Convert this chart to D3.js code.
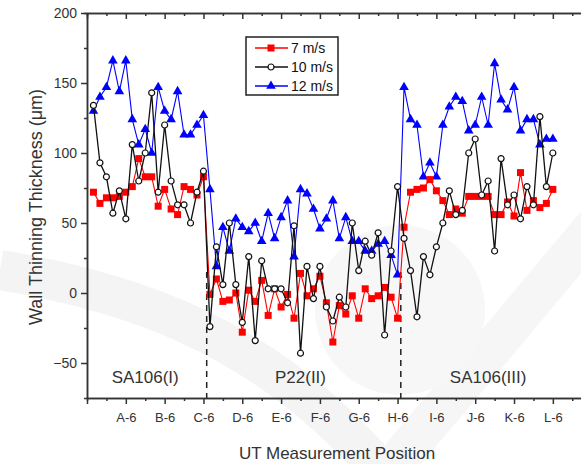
<!DOCTYPE html>
<html>
<head>
<meta charset="utf-8">
<script src="https://cdn.jsdelivr.net/npm/d3@7"></script>
<style>
  body { margin: 0; background: #fff; }
  svg { display: block; font-family: "Liberation Sans", Arial, sans-serif; }
</style>
</head>
<body>
<script>
// measurement positions A-1 .. L-6 -> index 1..72
var positions = d3.range(1, 73)

var v7 = [72, 64, 68, 68, 69, 72, 76, 96, 83, 83, 62, 74, 60, 56, 76, 74, 70, 83,
  -1, 10, -6, -5, 0, -28, 2, -6, 9, -16, 3, -10, -1, -18, 14, -2, 3, 12, -7, -35, -9, -15,
  -2, -18, 3, -4, -2, 4, -3, -18,
  47, 72, 74, 75, 81, 73, 66, 56, 60, 57, 69, 69, 69, 69, 56, 56, 65, 55, 86, 59, 66, 61, 64, 74]

var v10 = [134, 93, 83, 57, 73, 53, 106, 80, 100, 143, 72, 120, 80, 63, 63, 50, 72, 87,
  -24, 33, 6, 50, 6, -21, 26, -34, 23, 3, 3, 3, -7, 48, -43, 19, -4, 19, -10, -20, -3, -10,
  50, 16, 37, 27, 43, -30, 30, 76,
  39, 16, -17, 26, 13, 33, 50, 73, 56, 59, 100, 110, 70, 80, 30, 96, 63, 70, 53, 76, 63, 126, 76, 100]

var v12 = [130, 140, 147, 166, 144, 166, 124, 106, 117, 100, 147, 130, 124, 144, 113, 113, 120, 127,
  74, 19, 47, 30, 53, 47, 44, 50, 37, 57, 39, 54, 66, 26, 74, 71, 60, 46, 53, 66, 39, 54,
  37, 37, 30, 30, 35, 37, 27, 13,
  147, 124, 120, 83, 93, 83, 120, 133, 140, 137, 116, 120, 140, 120, 164, 138, 131, 147, 116, 124, 124, 106, 110, 110]

var tickLabels = ["A-6", "B-6", "C-6", "D-6", "E-6", "F-6", "G-6", "H-6", "I-6", "J-6", "K-6", "L-6"]
var regionNames = ["SA106(I)", "P22(II)", "SA106(III)"]
var regionCenters = [9, 33, 62]
var boundaries = [18.5, 48.5]
var seriesNames = ["7 m/s", "10 m/s", "12 m/s"]

var W = 581, H = 464

var svg = d3.select('body').append('svg')
  .attr('width', W)
  .attr('height', H)

// faint background watermark
svg.append('path')
  .attr('d', 'M0,270 C120,290 260,330 380,470')
  .attr('fill', 'none').attr('stroke', '#f4f4f4').attr('stroke-width', 40)
svg.append('path')
  .attr('d', 'M600,220 L390,470')
  .attr('fill', 'none').attr('stroke', '#f6f6f6').attr('stroke-width', 40)
svg.append('circle')
  .attr('cx', 400).attr('cy', 310).attr('r', 85)
  .attr('fill', '#f7f7f7')

var x = d3.scaleLinear().domain([0, 78]).range([87, 87 + 78 * 6.47])
var y = d3.scaleLinear().domain([-75, 200]).range([398, 13])

var axisColor = '#333'

// axes
var gl = svg.append('g').attr('transform', 'translate(87,0)')
gl.call(d3.axisLeft(y).tickValues([-50, 0, 50, 100, 150, 200]).tickSize(6).tickSizeOuter(0).tickPadding(4))
svg.append('g').attr('transform', 'translate(87,0)')
  .call(d3.axisLeft(y).tickValues([-25, 25, 75, 125, 175]).tickSize(3).tickFormat(''))

var labelAt = {}
tickLabels.forEach(function (t, i) { labelAt[(i + 1) * 6] = t })

svg.append('g').attr('transform', 'translate(0,398)')
  .call(d3.axisBottom(x).tickValues(d3.range(0, 79, 6)).tickSize(6).tickSizeOuter(0).tickPadding(9)
    .tickFormat(function (d) { return labelAt[d] || '' }))
svg.append('g').attr('transform', 'translate(0,398)')
  .call(d3.axisBottom(x).tickValues(d3.range(3, 79, 6)).tickSize(3).tickFormat(''))
svg.append('g').attr('transform', 'translate(0,13)')
  .call(d3.axisTop(x).tickValues(d3.range(0, 79, 6)).tickSize(-6).tickSizeOuter(0).tickFormat(''))
svg.append('g').attr('transform', 'translate(0,13)')
  .call(d3.axisTop(x).tickValues(d3.range(3, 79, 6)).tickSize(-3).tickFormat(''))

svg.selectAll('.domain, .tick line').attr('stroke', axisColor).attr('stroke-width', 1.5)
svg.selectAll('.tick text').attr('fill', '#333').attr('font-family', '"Liberation Sans", Arial, sans-serif')
gl.selectAll('.tick text').attr('font-size', 14)
svg.selectAll('g').filter(function () { return d3.select(this).attr('transform') == 'translate(0,398)' })
  .selectAll('.tick text').attr('font-size', 13)

// section dividers
svg.selectAll('.divider').data(boundaries).enter().append('line')
  .attr('x1', function (d) { return x(d) }).attr('x2', function (d) { return x(d) })
  .attr('y1', y(15)).attr('y2', y(-75))
  .attr('stroke', '#222').attr('stroke-width', 1.5).attr('stroke-dasharray', '6,5')

// series
var series = [
  { name: seriesNames[2], vals: v12, color: '#0000ff', mark: 'tri' },
  { name: seriesNames[0], vals: v7, color: '#ff0000', mark: 'sq' },
  { name: seriesNames[1], vals: v10, color: '#111', mark: 'circ' }
]

var line = d3.line()
  .x(function (d) { return x(d[0]) })
  .y(function (d) { return y(d[1]) })

function drawMark (g, kind, color) {
  if (kind == 'sq') {
    g.append('rect').attr('x', -3.5).attr('y', -3.5).attr('width', 7).attr('height', 7).attr('fill', color)
  } else if (kind == 'tri') {
    g.append('path').attr('d', d3.symbol(d3.symbolTriangle, 40)()).attr('fill', color)
  } else {
    g.append('circle').attr('r', 3).attr('fill', '#fff').attr('stroke', color).attr('stroke-width', 1.2)
  }
}

series.forEach(function (s) {
  var pts = positions.map(function (p, i) { return [p, s.vals[i]] })
  svg.append('path').datum(pts)
    .attr('d', line)
    .attr('fill', 'none')
    .attr('stroke', s.color)
    .attr('stroke-width', s.mark == 'circ' ? 1.3 : 1.1)
  svg.selectAll('.m-' + s.mark).data(pts).enter().append('g')
    .attr('class', 'm-' + s.mark)
    .attr('transform', function (d) { return 'translate(' + x(d[0]) + ',' + y(d[1]) + ')' })
    .each(function () { drawMark(d3.select(this), s.mark, s.color) })
})

// region labels
svg.selectAll('.region').data(regionNames).enter().append('text')
  .attr('x', function (d, i) { return x(regionCenters[i]) })
  .attr('y', 383)
  .attr('text-anchor', 'middle')
  .attr('font-size', 17)
  .attr('fill', '#333')
  .text(function (d) { return d })

// axis titles
svg.append('text')
  .attr('transform', 'translate(42,207) rotate(-90)')
  .attr('text-anchor', 'middle')
  .attr('font-size', 18)
  .attr('fill', '#333')
  .text('Wall Thinning Thickness (μm)')

svg.append('text')
  .attr('x', 337).attr('y', 459)
  .attr('text-anchor', 'middle')
  .attr('font-size', 17)
  .attr('fill', '#333')
  .text('UT Measurement Position')

// legend
var legend = svg.append('g')
legend.append('rect')
  .attr('x', 246).attr('y', 37).attr('width', 92).attr('height', 58)
  .attr('fill', '#fff').attr('stroke', '#222').attr('stroke-width', 1.5)

var legendItems = [
  { name: seriesNames[0], color: '#ff0000', mark: 'sq' },
  { name: seriesNames[1], color: '#111', mark: 'circ' },
  { name: seriesNames[2], color: '#0000ff', mark: 'tri' }
]
legendItems.forEach(function (it, i) {
  var cy = 48 + i * 19
  legend.append('line')
    .attr('x1', 255).attr('x2', 288).attr('y1', cy).attr('y2', cy)
    .attr('stroke', it.color).attr('stroke-width', 1.3)
  drawMark(legend.append('g').attr('transform', 'translate(271,' + cy + ')'), it.mark, it.color)
  legend.append('text')
    .attr('x', 291).attr('y', cy + 5)
    .attr('font-size', 14)
    .attr('fill', '#111')
    .text(it.name)
})
</script>
</body>
</html>
